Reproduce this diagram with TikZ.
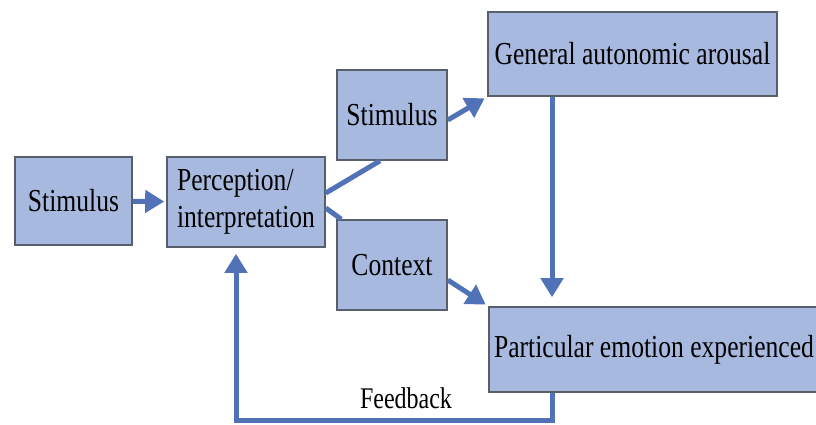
\documentclass[tikz,border=0pt]{standalone}
\usepackage{fontspec}
\setmainfont{Liberation Serif}[FakeStretch=0.8]
\usetikzlibrary{arrows.meta}
\definecolor{boxfill}{RGB}{168,185,223}
\definecolor{boxline}{RGB}{89,94,107}
\definecolor{arrowblue}{RGB}{82,114,183}
\begin{document}
\begin{tikzpicture}[x=1pt, y=-1pt,
	box/.style={draw=boxline, line width=1.6pt, fill=boxfill, inner sep=2pt, font=\fontsize{32}{37}\selectfont},
	arr/.style={arrowblue, line width=5pt, -{Triangle[length=19pt, width=22pt]}},
	link/.style={arrowblue, line width=5pt}]
	\useasboundingbox (0,0) rectangle (816,425);
	% Boxes
	\node[box, minimum width=117pt, minimum height=88pt] (stimA) at (73.5,201) {Stimulus};
	\node[box, minimum width=158pt, minimum height=90pt, align=left] (percep) at (246,202) {Perception/\\interpretation};
	\node[box, minimum width=110pt, minimum height=90pt] (stimB) at (392,115) {Stimulus};
	\node[box, minimum width=110pt, minimum height=90pt] (context) at (392,265) {Context};
	\node[box, minimum width=289pt, minimum height=84pt] (general) at (632.5,54) {General autonomic arousal};
	\node[box, minimum width=330pt, minimum height=85pt] (emotion) at (654,349.5) {Particular emotion experienced};
	\node[font=\fontsize{30}{36}\selectfont] (fb) at (406,398) {Feedback};
	% Arrows
	\draw[arr, shorten >=2pt] (stimA) -- (percep);
	\draw[link] ([yshift=9pt]percep.east) -- ([xshift=-12pt]stimB.south);
	\draw[link] ([yshift=-6pt]percep.east) -- ([xshift=5pt]context.north west);
	\draw[arr, shorten >=3pt] ([yshift=-5pt]stimB.east) -- (general.south west);
	\draw[arr, shorten >=3pt] ([yshift=-15pt]context.east) -- (emotion.north west);
	\draw[arr, shorten >=9pt] ([xshift=-80.5pt]general.south) -- ([xshift=-80.5pt]general.south |- emotion.north);
	\draw[arr, shorten >=6pt] ([xshift=-102pt]emotion.south) -- ++(0,28) -| ([xshift=-10pt]percep.south);
\end{tikzpicture}
\end{document}
